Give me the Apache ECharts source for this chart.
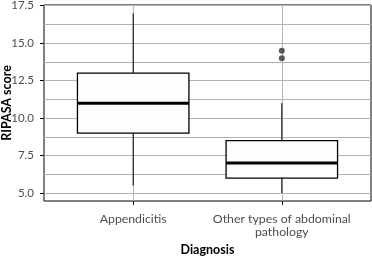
<!DOCTYPE html>
<html><head><meta charset="utf-8">
<script src="https://cdn.jsdelivr.net/npm/echarts@6/dist/echarts.min.js"></script>
<style>html,body{margin:0;padding:0;background:#fff}#c{width:372px;height:257px}</style>
</head><body><div id="c"></div>
<script>
const categories = ['Appendicitis', 'Other types of abdominal\npathology'];
const whiskerLow = [5.5, 5.0];
const q1 = [9, 6];
const median = [11, 7];
const q3 = [13, 8.5];
const whiskerHigh = [17, 11];
const outlierCategory = [2, 2];
const outlierValue = [14.5, 14];
const majorTicks = [5, 7.5, 10, 12.5, 15, 17.5];
const minorTicks = [6.25, 8.75, 11.25, 13.75, 16.25];

const FONT = 'Lato';
const boxData = categories.map((c, i) => [i + 1, whiskerLow[i], q1[i], median[i], q3[i], whiskerHigh[i]]);
const outData = outlierCategory.map((c, i) => [c, outlierValue[i]]);
const HALF = 0.375;

const chart = echarts.init(document.getElementById('c'), null, {renderer: 'canvas'});
chart.setOption({
  animation: false,
  backgroundColor: '#fff',
  grid: {left: 44, right: 1, top: 5, bottom: 56, containLabel: false, outerBoundsMode: 'none',
    show: true, borderColor: '#000', borderWidth: 1, backgroundColor: 'transparent'},
  xAxis: {
    type: 'value', min: 0.4, max: 2.6,
    name: 'Diagnosis', nameLocation: 'middle', nameGap: 42, nameMoveOverlap: false,
    nameTextStyle: {fontFamily: FONT, fontSize: 12.5, fontWeight: 'bold', color: '#000'},
    axisLine: {show: false},
    axisTick: {show: true, customValues: [1, 2], length: 4, lineStyle: {color: '#000', width: 1}},
    axisLabel: {show: true, customValues: [1, 2], margin: 12, fontFamily: FONT, fontSize: 12.3, color: '#4d4d4d', lineHeight: 12.5,
      formatter: v => categories[Math.round(v) - 1] || ''},
    splitLine: {show: false}
  },
  yAxis: {
    type: 'value', min: 4.47, max: 17.55,
    name: 'RIPASA score', nameLocation: 'middle', nameGap: 31, nameRotate: 90, nameMoveOverlap: false,
    nameTextStyle: {fontFamily: FONT, fontSize: 12.5, fontWeight: 'bold', color: '#000'},
    axisLine: {show: false},
    axisTick: {show: true, customValues: majorTicks, length: 4, lineStyle: {color: '#000', width: 1}},
    axisLabel: {show: true, customValues: majorTicks, margin: 10, fontFamily: FONT, fontSize: 11.5, color: '#4d4d4d',
      formatter: v => v.toFixed(1)},
    splitLine: {show: false}
  },
  series: [
    {
      type: 'line', data: [], z: 1, silent: true,
      markLine: {
        z: 1, silent: true, symbol: 'none', label: {show: false}, animation: false,
        lineStyle: {color: '#b3b3b3', width: 1, type: 'solid'},
        data: majorTicks.concat(minorTicks).map(v => ({yAxis: v}))
          .concat(categories.map((c, i) => ({xAxis: i + 1})))
      }
    },
    {
      type: 'custom', z: 3, data: boxData,
      renderItem: function (params, api) {
        const x = api.value(0);
        const lo = api.coord([x, api.value(1)]);
        const a = api.coord([x, api.value(2)]);
        const m = api.coord([x, api.value(3)]);
        const b = api.coord([x, api.value(4)]);
        const hi = api.coord([x, api.value(5)]);
        const l = api.coord([x - HALF, api.value(3)])[0];
        const r = api.coord([x + HALF, api.value(3)])[0];
        return {type: 'group', children: [
          {type: 'line', shape: {x1: hi[0], y1: hi[1], x2: b[0], y2: b[1]}, style: {stroke: '#000', lineWidth: 1}},
          {type: 'line', shape: {x1: a[0], y1: a[1], x2: lo[0], y2: lo[1]}, style: {stroke: '#000', lineWidth: 1}},
          {type: 'rect', shape: {x: l, y: b[1], width: r - l, height: a[1] - b[1]}, style: {fill: '#fdfdfd', stroke: '#000', lineWidth: 1.3}},
          {type: 'line', shape: {x1: l, y1: m[1], x2: r, y2: m[1]}, style: {stroke: '#000', lineWidth: 3}}
        ]};
      }
    },
    {
      type: 'scatter', z: 4, data: outData, symbol: 'circle', symbolSize: 6,
      itemStyle: {color: '#333'}
    }
  ]
});
</script>
</body></html>
